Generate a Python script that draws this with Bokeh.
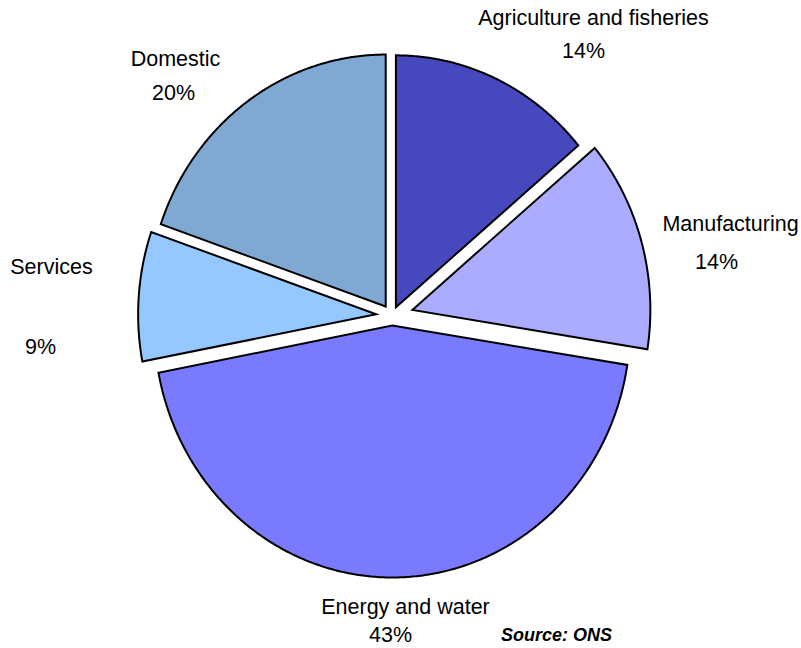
import math
from bokeh.plotting import figure
from bokeh.models import Range1d, ColumnDataSource
from bokeh.core.properties import value
from bokeh.embed import file_html
from bokeh.resources import INLINE

# ---- data ----
sectors = ["Agriculture and fisheries", "Manufacturing", "Energy and water", "Services", "Domestic"]
shares = [13.9, 13.6, 44.5, 8.3, 19.7]          # slice sizes as drawn
pct_labels = ["14%", "14%", "43%", "9%", "20%"]  # labels as printed
colors = ["#4848BE", "#ACACFF", "#7A7AFF", "#94C8FF", "#7FA8D2"]
explode_px = [9, 21, 10, 16, 11]

# ---- layout ----
W, H = 801, 648
CX, CY = 391.6, 315.0
RX, RY = 238.0, 252.0

p = figure(width=W, height=H, x_range=Range1d(0, W), y_range=Range1d(H, 0),
           toolbar_location=None, output_backend="svg", min_border=0)
p.axis.visible = False
p.grid.visible = False
p.outline_line_color = None
p.background_fill_color = "white"
p.border_fill_color = "white"

total = sum(shares)
xs, ys = [], []
start = 0.0
for s, d in zip(shares, explode_px):
    span = 360.0 * s / total
    mid = math.radians(start + span / 2)
    ox = CX + d * math.sin(mid)
    oy = CY - d * math.cos(mid)
    px, py = [ox], [oy]
    n = max(8, int(span * 2))
    for k in range(n + 1):
        t = math.radians(start + span * k / n)
        px.append(ox + RX * math.sin(t))
        py.append(oy - RY * math.cos(t))
    xs.append(px)
    ys.append(py)
    start += span

src = ColumnDataSource(dict(xs=xs, ys=ys, color=colors))
p.patches("xs", "ys", source=src, fill_color="color", line_color="black",
          line_width=2, line_join="miter")

font = value("Liberation Sans")
# name labels and percent labels
name_pos = [(593, 17), (730, 223), (405, 606), (51, 266), (175, 58)]
pct_pos = [(583, 50), (716, 261), (390, 634), (40, 346), (173, 92)]
p.text(x=[q[0] for q in name_pos], y=[q[1] for q in name_pos], text=sectors,
       text_font=font, text_font_size="21.5px", text_color="black",
       text_align="center", text_baseline="middle")
p.text(x=[q[0] for q in pct_pos], y=[q[1] for q in pct_pos], text=pct_labels,
       text_font=font, text_font_size="21.5px", text_color="black",
       text_align="center", text_baseline="middle")
p.text(x=[556], y=[634], text=["Source: ONS"], text_font=font,
       text_font_size="18px", text_font_style="bold italic", text_color="black",
       text_align="center", text_baseline="middle")

open("out.html", "w").write(file_html(p, INLINE))
